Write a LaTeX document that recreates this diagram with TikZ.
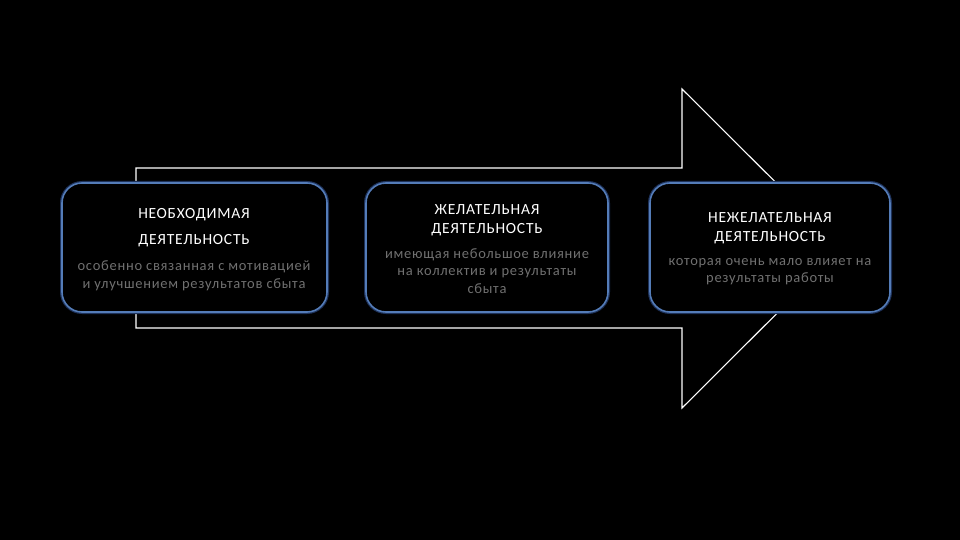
\documentclass[tikz,border=0pt]{standalone}
\usepackage{fontspec}
\setmainfont{Carlito}
\newfontfamily\spacedfont[LetterSpace=5]{Carlito}
\definecolor{boxblue}{RGB}{84,124,184}
\definecolor{glow}{RGB}{30,50,90}
\definecolor{bodygrey}{RGB}{112,112,112}
\begin{document}
\begin{tikzpicture}[x=1pt,y=-1pt,
  arrowshape/.style={draw=white,line width=1.1pt,fill=black,line join=miter},
  stagebox/.style={draw=boxblue,line width=1.6pt,fill=black,rounded corners=20pt},
  titletext/.style={text=white,font=\spacedfont\fontsize{15.5}{19}\selectfont,align=center,inner sep=0pt},
  bodytext/.style={text=bodygrey,font=\spacedfont\fontsize{14.5}{17.5}\selectfont,align=center,inner sep=0pt}]
\fill[black] (0,0) rectangle (960,540);
\useasboundingbox (0,0) rectangle (960,540);
% arrow
\draw[arrowshape] (136,168) -- (682,168) -- (682,89) -- (842,248.5) -- (682,408) -- (682,328) -- (136,328) -- cycle;
% boxes
\foreach \x/\y/\w in {62/183/265,366/183/242,650/183/240}{
  \draw[glow,line width=4pt,rounded corners=20pt] (\x,\y) rectangle ++(\w,129);
}
\draw[stagebox] (62,183) rectangle (327,312) node[pos=0.5] (b1) {};
\draw[stagebox] (366,183) rectangle (608,312) node[pos=0.5] (b2) {};
\draw[stagebox] (650,183) rectangle (890,312) node[pos=0.5] (b3) {};
% texts
\node[titletext] (t1a) at (194,214.5) {НЕОБХОДИМАЯ};
\node[titletext] (t1b) at (194,240.5) {ДЕЯТЕЛЬНОСТЬ};
\node[bodytext] (d1) at (194,275.5) {особенно связанная с мотивацией\\и улучшением результатов сбыта};
\node[titletext] (t2) at (487,220) {ЖЕЛАТЕЛЬНАЯ\\ДЕЯТЕЛЬНОСТЬ};
\node[bodytext] (d2) at (487,271) {имеющая небольшое влияние\\на коллектив и результаты\\сбыта};
\node[titletext] (t3) at (770,228.5) {НЕЖЕЛАТЕЛЬНАЯ\\ДЕЯТЕЛЬНОСТЬ};
\node[bodytext] (d3) at (770,271.5) {которая очень мало влияет на\\результаты работы};
\end{tikzpicture}
\end{document}
